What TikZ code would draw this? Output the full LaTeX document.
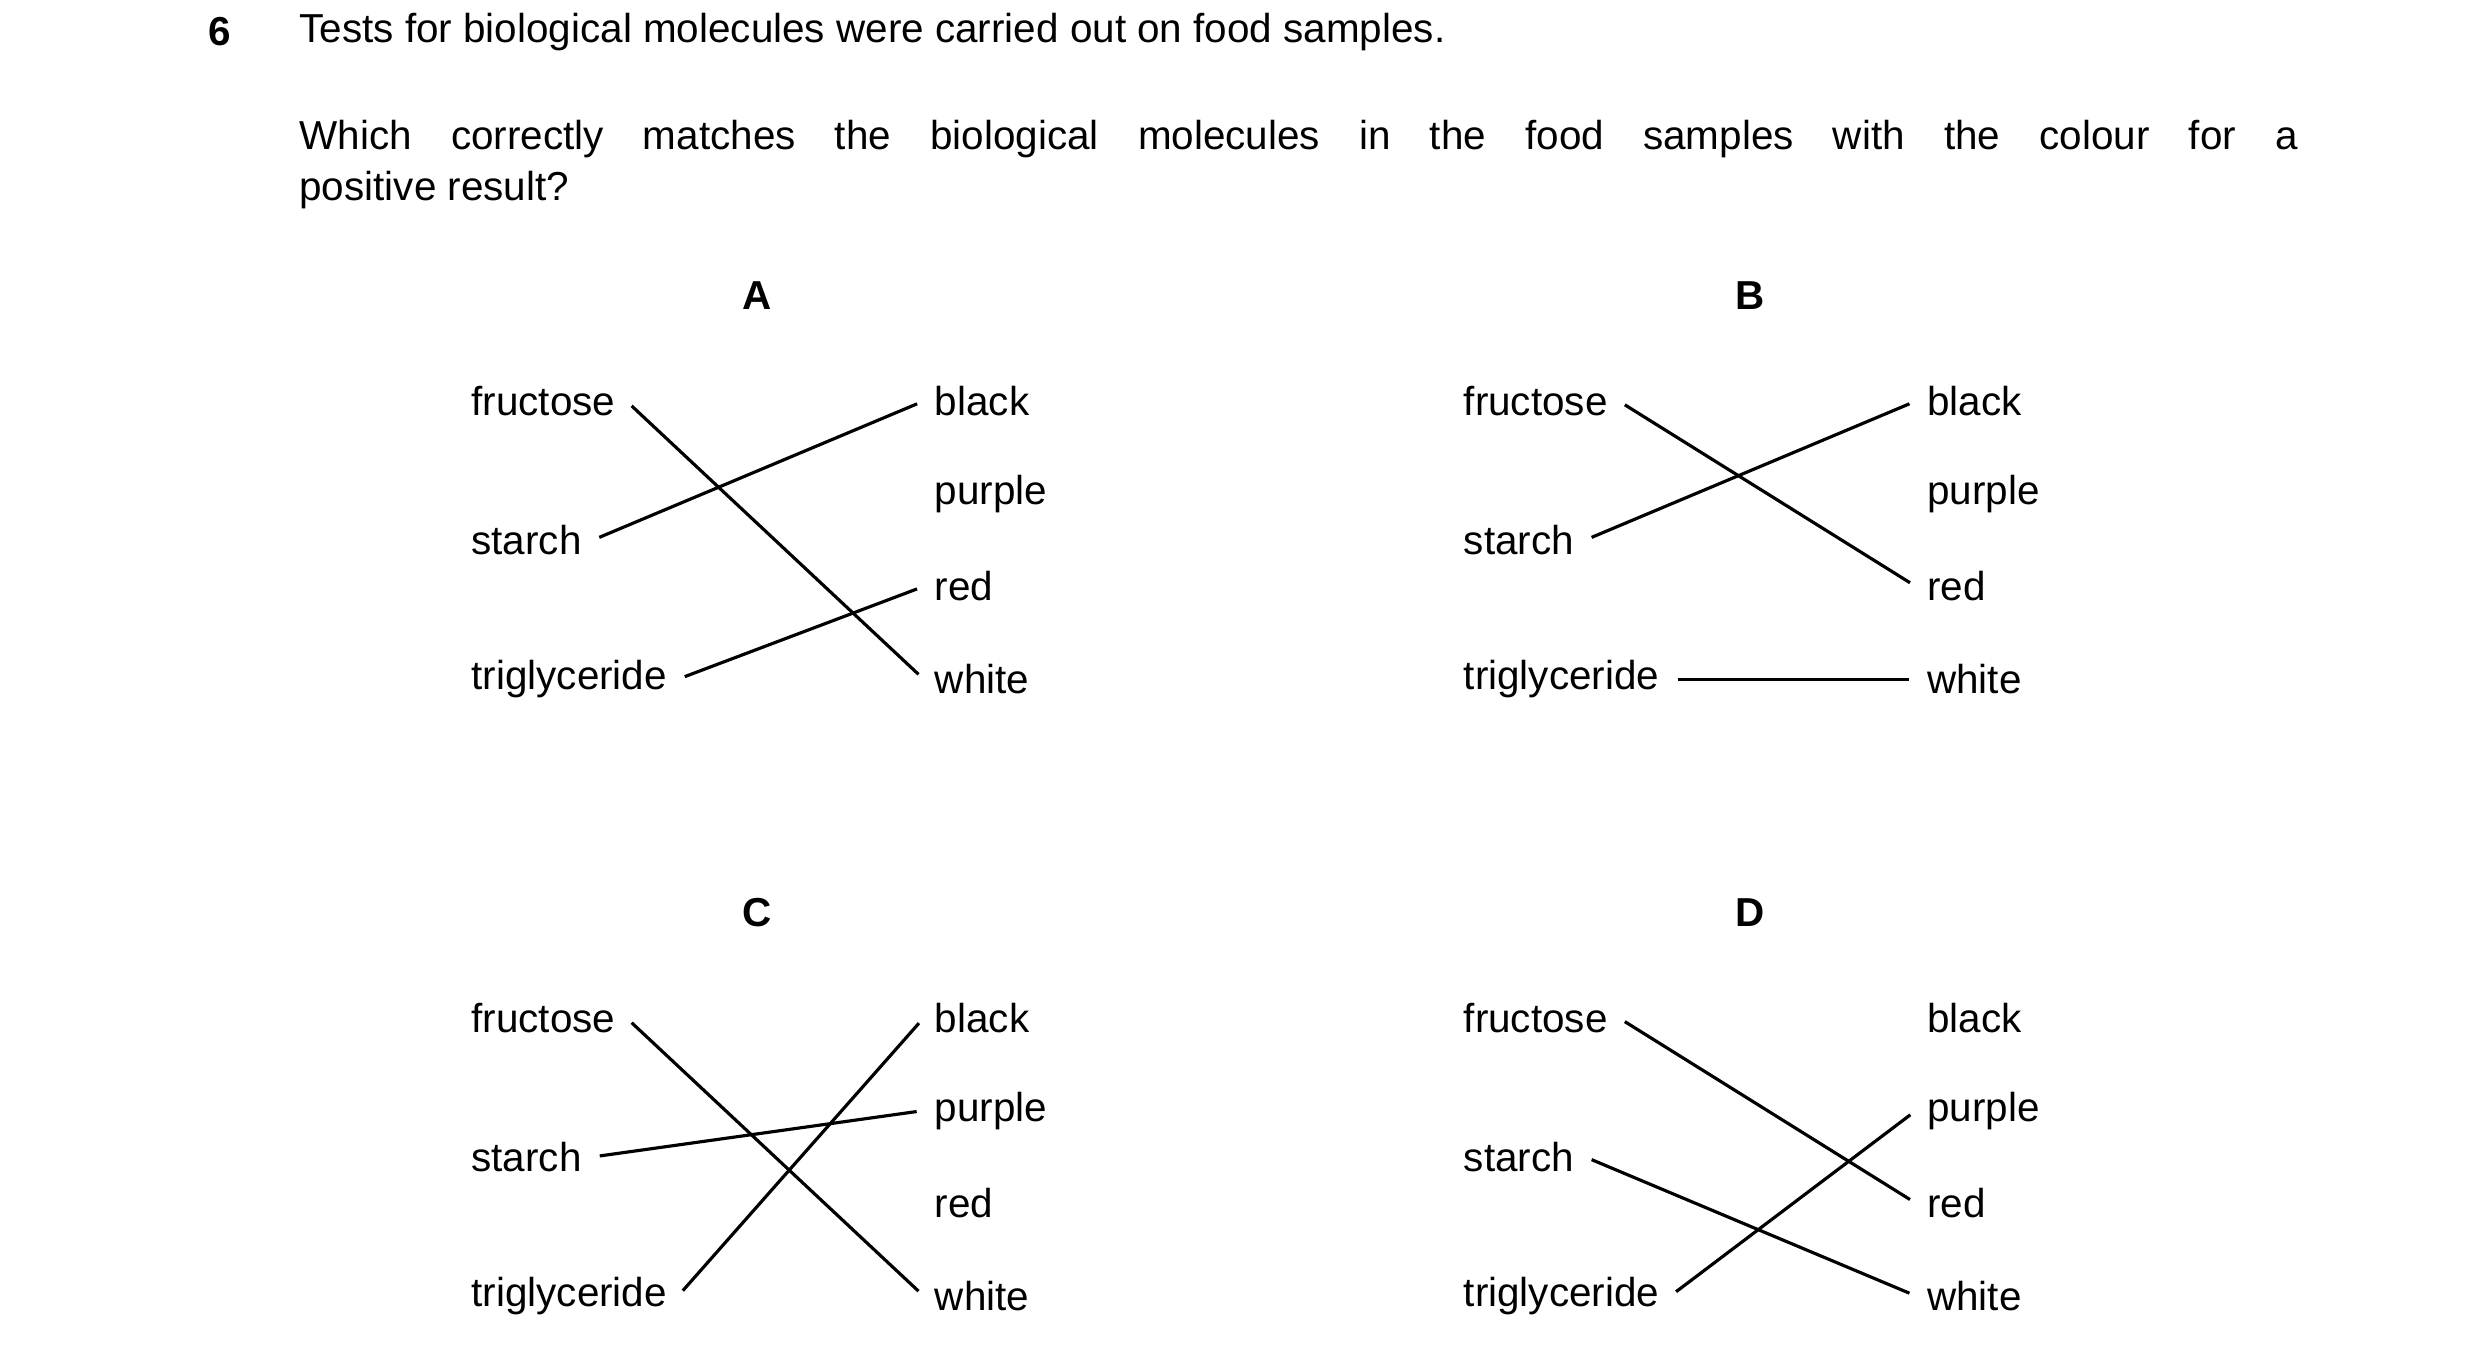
\documentclass[tikz,border=0pt]{standalone}
\usepackage{fontspec}
\setmainfont{Liberation Sans}
\usetikzlibrary{positioning}

\tikzset{
  word/.style={anchor=west,inner sep=3pt,font=\fontsize{11.5pt}{14pt}\selectfont},
  letter/.style={font=\fontsize{11.5pt}{14pt}\selectfont\bfseries},
  match/.style={line width=0.9pt,shorten <=2pt,shorten >=2pt}
}

% one answer panel: #1 prefix, #2 x offset, #3 y offset, #4 letter, #5 lines
\newcommand\matchpanel[5]{
  \begin{scope}[shift={(#2,#3)}]
    \node[letter] (#1lab) at (474,185) {#4};
    \node[word] (#1fru) at (288,251) {fructose};
    \node[word] (#1sta) at (288,338) {starch};
    \node[word] (#1tri) at (288,425) {triglyceride};
    \node[word] (#1bla) at (578,251) {black};
    \node[word] (#1pur) at (578,309) {purple};
    \node[word] (#1red) at (578,367) {red};
    \node[word] (#1whi) at (578,425) {white};
    #5
  \end{scope}
}

\begin{document}
\begin{tikzpicture}[x=0.01598cm,y=-0.01598cm]
  \useasboundingbox (0,0) rectangle (1552,843);
  \node[letter,anchor=west,inner sep=0] (qnum) at (130,20) {6};
  \node[word,inner sep=0] (qline1) at (187,20) {Tests for biological molecules were carried out on food samples.};
  \node[word,inner sep=0] (qline2) at (187,87) {\makebox[19.98cm][s]{Which correctly matches the biological molecules in the food samples with the colour for a}};
  \node[word,inner sep=0] (qline3) at (187,119) {positive result?};

  \matchpanel{a}{0}{0}{A}{
    \draw[match] (afru.east) -- (awhi.west);
    \draw[match] (asta.east) -- (abla.west);
    \draw[match] (atri.east) -- (ared.west);
  }
  \matchpanel{b}{621}{0}{B}{
    \draw[match] (bfru.east) -- (bred.west);
    \draw[match] (bsta.east) -- (bbla.west);
    \draw[match] (btri.east) -- (bwhi.west);
  }
  \matchpanel{c}{0}{386}{C}{
    \draw[match] (cfru.east) -- (cwhi.west);
    \draw[match] (csta.east) -- (cpur.west);
    \draw[match] (ctri.east) -- (cbla.west);
  }
  \matchpanel{d}{621}{386}{D}{
    \draw[match] (dfru.east) -- (dred.west);
    \draw[match] (dsta.east) -- (dwhi.west);
    \draw[match] (dtri.east) -- (dpur.west);
  }
\end{tikzpicture}
\end{document}
